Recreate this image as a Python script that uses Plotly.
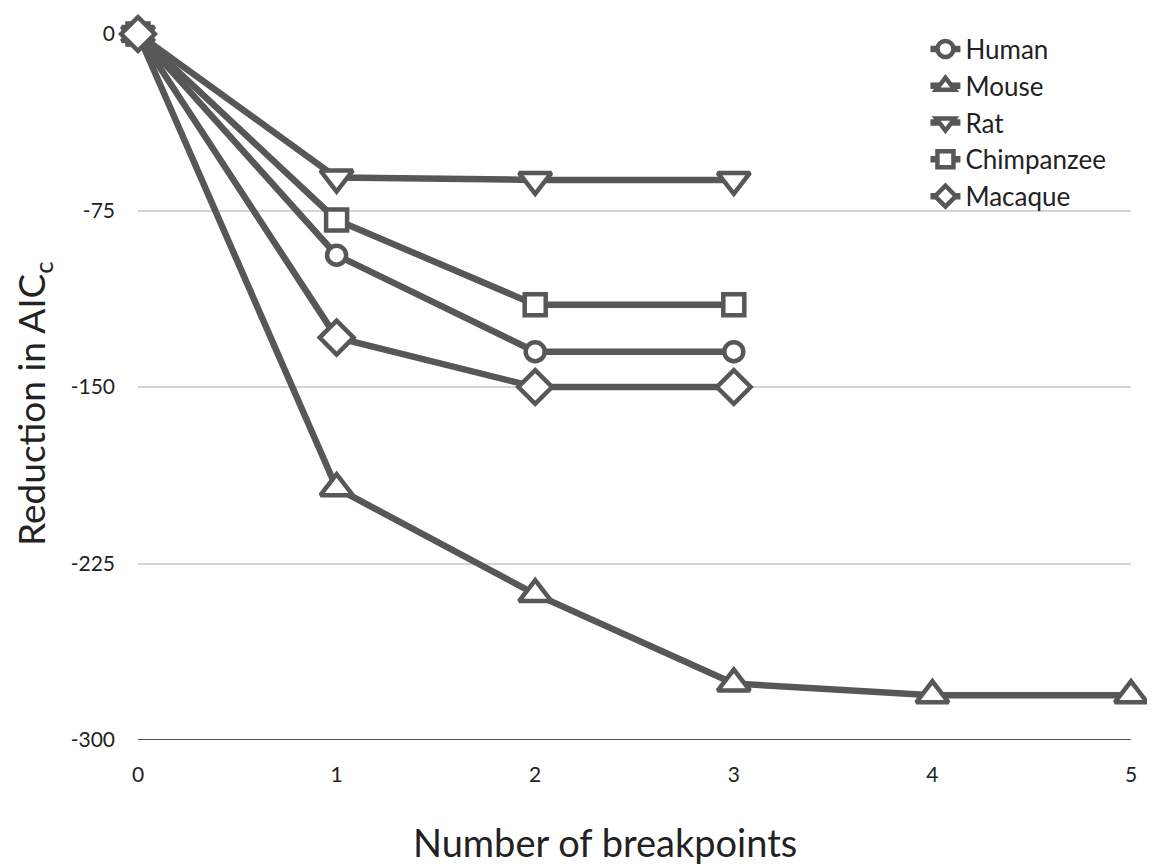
import plotly.graph_objects as go

breakpoints = [0, 1, 2, 3, 4, 5]
human = [0, -94, -135, -135]
mouse = [0, -193, -238, -276, -281, -281]
rat = [0, -61, -62, -62]
chimpanzee = [0, -79, -115, -115]
macaque = [0, -129, -150, -150]

y_ticks = [0, -75, -150, -225, -300]
x_ticks = [0, 1, 2, 3, 4, 5]

series = [
    ("Human", human, "circle", 19),
    ("Mouse", mouse, "triangle-up", 28),
    ("Rat", rat, "triangle-down", 28),
    ("Chimpanzee", chimpanzee, "square", 21),
    ("Macaque", macaque, "diamond", 26),
]

C = "#575757"
FONT = "Lato"

fig = go.Figure()
for name, vals, sym, size in series:
    fig.add_trace(go.Scatter(
        x=breakpoints[:len(vals)], y=vals, name=name, mode="lines+markers",
        line=dict(color=C, width=6.5),
        marker=dict(symbol=sym, size=size, color="white",
                    line=dict(color=C, width=4.5)),
        cliponaxis=False,
    ))

fig.update_layout(
    width=1147, height=859,
    margin=dict(l=130, r=24, t=26, b=127),
    paper_bgcolor="white", plot_bgcolor="white",
    font=dict(family=FONT, color="#222", size=21),
    showlegend=True,
    legend=dict(x=0.793, y=1.012, xanchor="left", yanchor="top",
                font=dict(size=26, family=FONT, color="#222"),
                bgcolor="rgba(0,0,0,0)", itemwidth=30, itemsizing="trace"),
    xaxis=dict(range=[0, 5], tickvals=x_ticks, ticktext=[str(t) for t in x_ticks],
               showgrid=False, zeroline=False, showline=False,
               ticks="", ticklabelstandoff=20),
    yaxis=dict(range=[-300, 0], tickvals=y_ticks, ticktext=[str(t) for t in y_ticks],
               showgrid=True, gridcolor="#d4d4d4", gridwidth=1.5,
               zeroline=False, showline=False, ticks="", ticklabelstandoff=22),
    annotations=[
        dict(text="Number of breakpoints", xref="paper", yref="paper",
             x=0.470, y=-0.145, xanchor="center", yanchor="middle", showarrow=False,
             font=dict(size=38, family=FONT, color="#222")),
        dict(text="Reduction in AIC<sub>c</sub>", xref="paper", yref="paper",
             x=-0.105, y=0.477, xanchor="center", yanchor="middle", showarrow=False,
             textangle=-90, font=dict(size=37, family=FONT, color="#222")),
    ],
)

fig.add_shape(type="line", xref="x", yref="y", x0=0, x1=5, y0=-300, y1=-300,
              line=dict(color="#555", width=2), layer="below")

fig.write_html("out.html")
